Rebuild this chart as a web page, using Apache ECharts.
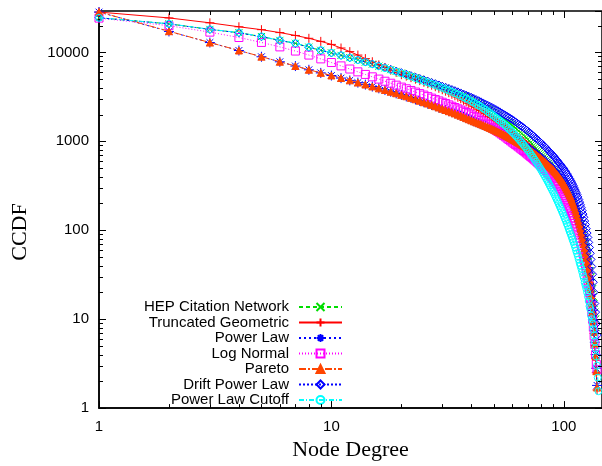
<!DOCTYPE html>
<html><head><meta charset="utf-8">
<script src="https://cdn.jsdelivr.net/npm/echarts@6/dist/echarts.min.js"></script>
<style>html,body{margin:0;padding:0;background:#fff}#c{width:602px;height:466px}</style>
</head><body><div id="c"></div>
<script>
// CCDF values, index i => node degree i+1
const hep = [24500,20950,18150,16650,15050,13650,12650,11450,10550,9880,
9260,8710,8210,7780,7380,7010,6690,6390,6120,5860,
5630,5410,5200,5010,4830,4660,4500,4360,4210,4070,
3940,3820,3710,3590,3480,3370,3260,3160,3060,2970,
2870,2780,2690,2610,2520,2440,2360,2280,2210,2130,
2060,1990,1930,1860,1800,1740,1680,1620,1560,1510,
1460,1410,1360,1310,1260,1220,1170,1130,1090,1050,
1010,970,935,900,866,833,801,771,742,713,
686,659,633,609,585,562,540,519,499,480,
460,441,423,406,390,374,359,344,330,317,
303,290,277,264,251,239,228,216,205,195,
184,174,163,153,144,135,125,116,108,100,
92,84,77,70,63,57,51,45,40,35,
30,26,22,18,15,12,10,8];
const truncGeo = [28400,24400,21500,19400,18000,16700,15500,14400,13300,12300,
11200,10200,9330,8510,7850,7240,6760,6310,5960,5620,
5410,5200,5000,4810,4620,4450,4280,4110,3950,3800,
3660,3520,3380,3250,3130,3010,2890,2780,2670,2570,
2480,2390,2300,2220,2140,2060,1990,1910,1850,1780,
1720,1660,1600,1550,1500,1445,1400,1350,1300,1260,
1216,1175,1135,1096,1059,1023,989,955,923,891,
862,834,806,780,754,729,706,682,660,638,
619,600,581,564,546,530,513,498,482,468,
452,437,421,406,391,376,361,348,333,320,
306,292,279,266,253,240,227,214,202,190,
178,166,155,144,133,122,112,103,94,85,
76,69,61,54,48,41,36,31,26,22,
18,14.7,11.7,9.1,6.9,5.1,3.6,2.5,1.6];
const powerLaw = [28400,17200,12900,10500,8930,7840,7020,6370,5880,5490,
5140,4840,4570,4340,4130,3940,3770,3610,3460,3330,
3200,3080,2960,2850,2750,2650,2560,2480,2400,2320,
2250,2180,2120,2060,2000,1940,1880,1830,1780,1730,
1680,1640,1600,1560,1525,1490,1455,1420,1386,1353,
1321,1290,1259,1229,1200,1172,1144,1117,1090,1064,
1039,1014,990,966,943,921,899,877,856,836,
815,794,773,753,734,715,696,678,660,643,
625,608,591,574,558,542,527,512,497,483,
468,453,438,423,408,393,379,365,351,337,
322,307,292,278,264,250,237,224,211,198,
186,174,162,150,139,128,118,108,98,89,
81,72,64,57,50,44,38,33,28,23,
19,15.5,12.5,9.8,7.5,5.5,4,2.8,1.8];
const logNormal = [24300,19950,16900,14700,12940,11530,10350,9330,8450,7690,
7050,6500,6040,5650,5310,5010,4740,4500,4280,4070,
3900,3730,3580,3440,3310,3180,3060,2950,2850,2750,
2660,2570,2480,2400,2320,2250,2180,2110,2040,1980,
1908,1841,1777,1714,1654,1596,1540,1486,1434,1384,
1337,1291,1247,1205,1164,1125,1086,1050,1014,980,
950,920,892,865,838,813,788,764,741,718,
697,676,656,637,618,600,582,565,548,532,
515,499,483,468,452,437,422,407,394,380,
366,352,337,324,310,296,283,270,258,245,
233,221,209,198,187,176,166,156,147,138,
129,120,111,103,95,88,81,74,67,61,
55,50,45,40,35,31,27,24,20,17,
14.5,12,10,8.1,6.5,5.2,4.0,3.1,2.7];
const pareto = [28500,17300,12900,10500,8950,7850,7030,6380,5890,5500,
5150,4850,4580,4350,4140,3940,3780,3610,3470,3330,
3210,3080,2970,2860,2750,2660,2570,2480,2400,2320,
2250,2180,2120,2060,1995,1940,1880,1820,1770,1720,
1677,1637,1598,1560,1522,1486,1451,1416,1382,1349,
1317,1285,1255,1225,1195,1167,1139,1112,1085,1059,
1034,1009,985,962,939,916,894,873,852,832,
810,789,768,748,729,710,691,673,656,638,
620,603,586,569,553,537,522,507,493,479,
463,449,434,419,404,389,375,361,347,333,
318,303,289,275,261,247,234,221,208,195,
183,171,159,148,136,126,116,106,96,87,
79,70,63,56,49,43,37,32,27,22,
18.5,15,12,9.4,7.2,5.3,3.8,2.6,1.7];
const driftPL = [24500,20900,18100,16600,15000,13600,12600,11400,10500,9860,
9250,8710,8220,7800,7400,7050,6730,6440,6170,5920,
5690,5470,5270,5080,4910,4740,4580,4440,4300,4160,
4040,3930,3820,3710,3600,3500,3400,3300,3210,3120,
3030,2940,2860,2780,2700,2620,2550,2480,2410,2340,
2273,2208,2145,2084,2025,1968,1912,1858,1805,1754,
1702,1652,1603,1556,1510,1466,1422,1380,1340,1300,
1260,1222,1185,1148,1113,1079,1046,1014,983,953,
923,893,865,838,811,785,760,736,713,690,
667,644,622,601,581,561,542,524,506,489,
470,452,434,416,398,381,364,348,331,316,
299,283,267,252,237,222,207,193,179,166,
152,140,127,116,104,93,83,73,64,55,
47,39,32,26,20,15,12,8.9,6.6];
const plCutoff = [24500,21000,18200,16700,15100,13700,12700,11500,10600,9910,
9270,8710,8200,7760,7350,6980,6650,6350,6070,5810,
5570,5350,5140,4940,4760,4590,4430,4280,4130,3990,
3850,3720,3600,3480,3360,3240,3130,3030,2920,2820,
2720,2620,2530,2440,2350,2260,2170,2090,2010,1930,
1850,1780,1710,1640,1570,1510,1445,1385,1325,1270,
1215,1160,1110,1060,1010,966,920,877,836,796,
759,721,685,652,619,587,557,528,501,474,
449,425,402,380,359,339,320,302,285,269,
254,239,225,212,199,187,176,165,155,145,
136,128,119,112,104,97,91,85,79,74,
69,64,59,55,51,47,43,40,37,34,
31,29,26,24,22,20,18,16,14,13,
11,10,8.9,7.7,6.6,5.6,4.7,3.8,3.0,2.2,1.55];

const seriesNames = ['HEP Citation Network','Truncated Geometric','Power Law','Log Normal','Pareto','Drift Power Law','Power Law Cutoff'];
const xMin = 1, xMax = 146, yMin = 1, yMax = 29200;
const xMinorTicks = [2,3,4,5,6,7,8,9,20,30,40,50,60,70,80,90];
const yMinorTicks = [2,3,4,5,6,7,8,9,20,30,40,50,60,70,80,90,200,300,400,500,600,700,800,900,2000,3000,4000,5000,6000,7000,8000,9000,20000];

const pairs = arr => arr.map((v,i)=>[i+1, v]);
const styles = [
  {data: hep, color:'#00dd00', dash:[4,3], symbol:'path://M0,0L10,10M10,0L0,10', size:7, fill:false},
  {data: truncGeo, color:'#ff0000', dash:'solid', symbol:'path://M5,0L5,10M0,5L10,5', size:9, fill:false},
  {data: powerLaw, color:'#0000ff', dash:[2,3], symbol:'path://M5,0L5,10M0,5L10,5M1.6,1.6L8.4,8.4M8.4,1.6L1.6,8.4', size:10, fill:false},
  {data: logNormal, color:'#ff00ff', dash:[1,2], symbol:'rect', size:8, fill:false},
  {data: pareto, color:'#ff4500', dash:[7,2,2,2], symbol:'triangle', size:7, fill:true},
  {data: driftPL, color:'#0000ff', dash:[2,2], symbol:'diamond', size:8, fill:false},
  {data: plCutoff, color:'#00ffff', dash:[5,2,1,2], symbol:'circle', size:7, fill:false}
];

const series = styles.map((s, k) => ({
  name: seriesNames[k], type:'line', data: pairs(s.data), xAxisIndex:0, yAxisIndex:0,
  symbol: s.symbol, symbolSize: s.size, showSymbol: true, showAllSymbol: true,
  lineStyle: {color: s.color, width: 1, type: s.dash},
  itemStyle: {color: s.fill ? s.color : 'rgba(0,0,0,0)', borderColor: s.color, borderWidth: 1},
  emphasis: {disabled: true}, silent: true, z: 2 + k
}));

const majorTick = {show:true, inside:true, length:7, interval:0, lineStyle:{color:'#000', width:1}};
const mirrorAxis = (pos) => ({type:'log', logBase:10, position:pos,
  min: (pos === 'top') ? xMin : yMin, max: (pos === 'top') ? xMax : yMax,
  axisLine:{show:false}, axisLabel:{show:false}, splitLine:{show:false}, axisTick: majorTick});

const chart = echarts.init(document.getElementById('c'), null, {renderer:'canvas'});
chart.setOption({
  animation: false,
  backgroundColor: '#fff',
  grid: {left: 99, right: 0, top: 11, bottom: 52, show: true, borderColor:'#000', borderWidth: 1.5},
  xAxis: [{type:'log', logBase:10, min:xMin, max:xMax, position:'bottom',
    axisLine:{lineStyle:{color:'#000', width:1.5}}, axisTick: majorTick, splitLine:{show:false},
    axisLabel:{color:'#000', fontSize:15, fontFamily:'Liberation Sans', margin:11, showMaxLabel:false,
      formatter: v => String(Math.round(v))},
    name:'Node Degree', nameLocation:'middle', nameGap:22,
    nameTextStyle:{fontFamily:'Liberation Serif', fontSize:22, color:'#000'}},
    mirrorAxis('top')],
  yAxis: [{type:'log', logBase:10, min:yMin, max:yMax, position:'left',
    axisLine:{lineStyle:{color:'#000', width:1.5}}, axisTick: majorTick, splitLine:{show:false},
    axisLabel:{color:'#000', fontSize:15, fontFamily:'Liberation Sans', margin:10, showMaxLabel:false,
      formatter: v => String(Math.round(v))}},
    mirrorAxis('right')],
  graphic: [{type:'text', id:'ccdf', x:20, y:232, rotation:Math.PI/2, z:100,
    style:{text:'CCDF', font:'22px "Liberation Serif"', fill:'#000', align:'center', verticalAlign:'middle'}}],
  legend: {data: seriesNames, orient:'vertical', align:'right', right:259, top:299.5, padding:0,
    itemWidth:43, itemHeight:10, itemGap:0.5, selectedMode:false,
    textStyle:{fontSize:15, fontFamily:'Liberation Sans', color:'#000', lineHeight:15, padding:[0,5,0,0]}},
  series: series
});

// minor ticks (inward, mirrored) positioned through the axis scales
const tickEls = [];
const r = p => Math.round(p) + 0.5;
const seg = (id, x1, y1, x2, y2) => ({type:'line', id:id, z:100,
  shape:{x1:x1, y1:y1, x2:x2, y2:y2}, style:{stroke:'#000', lineWidth:1}});
xMinorTicks.forEach((v, i) => {
  try {
    const b = chart.convertToPixel({xAxisIndex:0, yAxisIndex:0}, [v, yMin]);
    const t = chart.convertToPixel({xAxisIndex:0, yAxisIndex:0}, [v, yMax]);
    tickEls.push(seg('xb' + i, r(b[0]), b[1], r(b[0]), b[1] - 4));
    tickEls.push(seg('xt' + i, r(t[0]), t[1], r(t[0]), t[1] + 4));
  } catch (e) {}
});
yMinorTicks.forEach((v, i) => {
  try {
    const l = chart.convertToPixel({xAxisIndex:0, yAxisIndex:0}, [xMin, v]);
    const q = chart.convertToPixel({xAxisIndex:0, yAxisIndex:0}, [xMax, v]);
    tickEls.push(seg('yl' + i, l[0], r(l[1]), l[0] + 4, r(l[1])));
    tickEls.push(seg('yr' + i, q[0], r(q[1]), q[0] - 4, r(q[1])));
  } catch (e) {}
});
try { chart.setOption({graphic: tickEls}); } catch (e) {}
</script></body></html>
